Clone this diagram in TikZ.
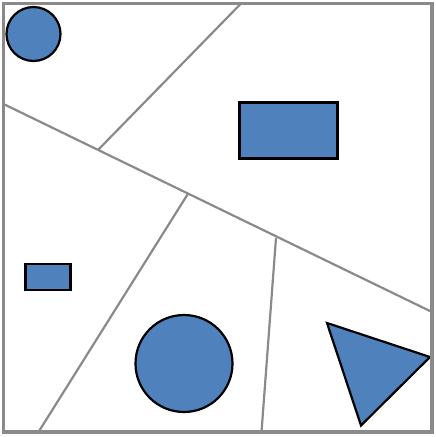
\documentclass[tikz,border=0pt]{standalone}
\definecolor{shapeblue}{RGB}{79,129,189}
\definecolor{linegray}{RGB}{138,138,138}
\tikzset{
  shapestyle/.style={fill=shapeblue, draw=black, line width=2.2pt},
  partline/.style={draw=linegray, line width=2.2pt},
  frame/.style={draw=linegray, line width=3.2pt}
}
\begin{document}
\begin{tikzpicture}[x=1pt,y=-1pt]
\useasboundingbox (0,0) rectangle (436,437);
% partition points
\coordinate (A) at (3.5,104);
\coordinate (B) at (432,312);
\coordinate (P1) at (98,150);
\coordinate (P2) at (187.5,194.5);
\coordinate (P3) at (276,238);
\coordinate (T) at (241,3.5);
\coordinate (Q1) at (38.5,432);
\coordinate (Q2) at (261.5,432);
\draw[partline] (A) -- (B);
\draw[partline] (T) -- (P1);
\draw[partline] (P2) -- (Q1);
\draw[partline] (P3) -- (Q2);
% shapes
\draw[shapestyle] (33.5,34) circle (27);
\draw[shapestyle] (239.5,102.5) rectangle (337.5,158.5);
\draw[shapestyle] (25.5,264) rectangle (70.5,290);
\draw[shapestyle] (184,363.5) circle (48.5);
\draw[shapestyle] (327,323) -- (430,357) -- (361,425.5) -- cycle;
% frame
\draw[frame] (3.5,3.5) rectangle (432,432);
\end{tikzpicture}
\end{document}
